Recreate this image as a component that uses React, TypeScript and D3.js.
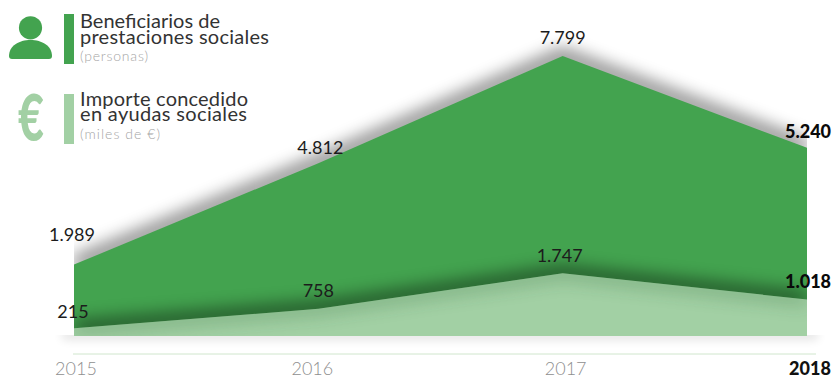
import React, { useEffect, useRef } from 'react';
import * as d3 from 'd3';

const years = ['2015', '2016', '2017', '2018'];
const beneficiaries = [1989, 4812, 7799, 5240];
const amounts = [215, 758, 1747, 1018];
const beneficiaryLabels = ['1.989', '4.812', '7.799', '5.240'];
const amountLabels = ['215', '758', '1.747', '1.018'];

const DARK_GREEN = '#43a34f';
const LIGHT_GREEN = '#a2d0a4';
const FONT = 'Lato, "Open Sans", sans-serif';

const App: React.FC = () => {
  const svgRef = useRef<SVGSVGElement>(null);

  useEffect(() => {
    if (!svgRef.current) return;
    const svg = d3.select(svgRef.current);
    svg.selectAll('*').remove();

    const width = 834;
    const height = 379;
    const left = 74;
    const right = 807;
    const baseline = 336;

    const x = d3.scalePoint<string>().domain(years).range([left, right]);
    const y = d3.scaleLinear().domain([0, 7799]).range([baseline, 56]);

    const area = d3.area<number>()
      .x((_, i) => x(years[i]) as number)
      .y0(baseline)
      .y1(d => y(d));
    const line = d3.line<number>()
      .x((_, i) => x(years[i]) as number)
      .y(d => y(d));

    const defs = svg.append('defs');
    const blur = (id: string, dev: number) => {
      defs.append('filter').attr('id', id)
        .attr('filterUnits', 'userSpaceOnUse')
        .attr('x', 0).attr('y', 0).attr('width', width).attr('height', height)
        .append('feGaussianBlur').attr('stdDeviation', dev);
    };
    blur('soft', 9);
    blur('under', 5);
    defs.append('clipPath').attr('id', 'plot')
      .append('rect').attr('x', left).attr('y', 0).attr('width', right - left).attr('height', baseline);
    defs.append('clipPath').attr('id', 'light-clip').append('path').attr('d', area(amounts));

    // Faint shadow under the areas
    svg.append('rect')
      .attr('x', 62).attr('y', baseline - 6).attr('width', 756).attr('height', 10)
      .attr('fill', '#000').attr('opacity', 0.1).attr('filter', 'url(#under)');
    svg.append('rect')
      .attr('x', 0).attr('y', 0).attr('width', width).attr('height', baseline - 1).attr('fill', '#fff');

    // Shadows stay inside the plot width, cut hard at the left edge
    const clipped = svg.append('g').attr('clip-path', 'url(#plot)');
    clipped.append('path')
      .attr('d', line(beneficiaries))
      .attr('fill', 'none').attr('stroke', '#000').attr('stroke-width', 12)
      .attr('opacity', 0.62).attr('filter', 'url(#soft)');
    clipped.append('path').attr('d', area(beneficiaries)).attr('fill', DARK_GREEN);
    clipped.append('path')
      .attr('d', line(amounts))
      .attr('fill', 'none').attr('stroke', '#000').attr('stroke-width', 12)
      .attr('opacity', 0.62).attr('filter', 'url(#soft)');
    clipped.append('path').attr('d', area(amounts)).attr('fill', LIGHT_GREEN);

    // Soft darkening of the light area just below its top edge
    svg.append('g').attr('clip-path', 'url(#light-clip)')
      .append('path')
      .attr('d', line(amounts))
      .attr('fill', 'none').attr('stroke', '#2f6b38').attr('stroke-width', 8)
      .attr('opacity', 0.5).attr('filter', 'url(#soft)');

    // X axis
    const axisY = 354;
    svg.append('line')
      .attr('x1', left - 1).attr('x2', 816).attr('y1', axisY).attr('y2', axisY)
      .attr('stroke', '#d0e6cd').attr('stroke-width', 1);
    const tickShift = [2, -6, 3, 3];
    svg.append('g').selectAll('text').data(years).enter().append('text')
      .attr('x', (d, i) => (x(d) as number) + tickShift[i])
      .attr('y', 375)
      .attr('text-anchor', 'middle')
      .attr('font-family', FONT)
      .attr('font-size', 18)
      .attr('font-weight', (_, i) => i === 3 ? 900 : 300)
      .attr('fill', (_, i) => i === 3 ? '#111' : '#8f8f8f')
      .text(d => d);

    // Value labels
    const valueLabel = (labels: string[], dx: number[], baselines: number[]) => {
      svg.append('g').selectAll('text').data(labels).enter().append('text')
        .attr('x', (_, i) => (x(years[i]) as number) + dx[i])
        .attr('y', (_, i) => baselines[i])
        .attr('text-anchor', 'middle')
        .attr('font-family', FONT)
        .attr('font-size', 18)
        .attr('font-weight', (_, i) => i === 3 ? 900 : 400)
        .attr('fill', (_, i) => i === 3 ? '#0a0a0a' : '#1c1c1c')
        .text(d => d);
    };
    valueLabel(beneficiaryLabels, [-2, 2, 0, 1], [241, 154, 44, 138]);
    valueLabel(amountLabels, [-1, 0, -3, 1], [318, 297, 262, 288]);

    // Legend
    const legend = svg.append('g');
    legend.append('rect').attr('x', 64).attr('y', 14).attr('width', 10).attr('height', 50).attr('fill', DARK_GREEN);
    legend.append('rect').attr('x', 64).attr('y', 94).attr('width', 10).attr('height', 50).attr('fill', LIGHT_GREEN);

    legend.append('circle').attr('cx', 30.5).attr('cy', 27.8).attr('r', 11.6).attr('fill', DARK_GREEN);
    legend.append('path')
      .attr('d', 'M9 56 C9 46 19 40 30.5 40 C42 40 52 46 52 56 Q52 59 49 59 L12 59 Q9 59 9 56 Z')
      .attr('fill', DARK_GREEN);
    legend.append('text')
      .attr('transform', 'translate(31,141) scale(0.7,1)')
      .attr('text-anchor', 'middle')
      .attr('font-family', FONT)
      .attr('font-size', 64).attr('font-weight', 900)
      .attr('fill', LIGHT_GREEN)
      .text('€');

    const legendText = (str: string, ty: number, size: number, fill: string, weight: number, len: number) => {
      legend.append('text')
        .attr('x', 80).attr('y', ty)
        .attr('font-family', FONT)
        .attr('font-size', size).attr('font-weight', weight)
        .attr('fill', fill)
        .attr('textLength', len)
        .attr('lengthAdjust', 'spacing')
        .text(str);
    };
    legendText('Beneficiarios de', 28, 20, '#333', 400, 140);
    legendText('prestaciones sociales', 44, 20, '#333', 400, 189);
    legendText('(personas)', 61, 14, '#a5a5a5', 300, 68);
    legendText('Importe concedido', 106, 20, '#333', 400, 168);
    legendText('en ayudas sociales', 121, 20, '#333', 400, 167);
    legendText('(miles de €)', 139, 14, '#a5a5a5', 300, 80);
  }, []);

  return (
    <svg
      ref={svgRef}
      width={834}
      height={379}
      viewBox="0 0 834 379"
      style={{ position: 'absolute', left: 0, top: 0, display: 'block' }}
    />
  );
};

export default App;
